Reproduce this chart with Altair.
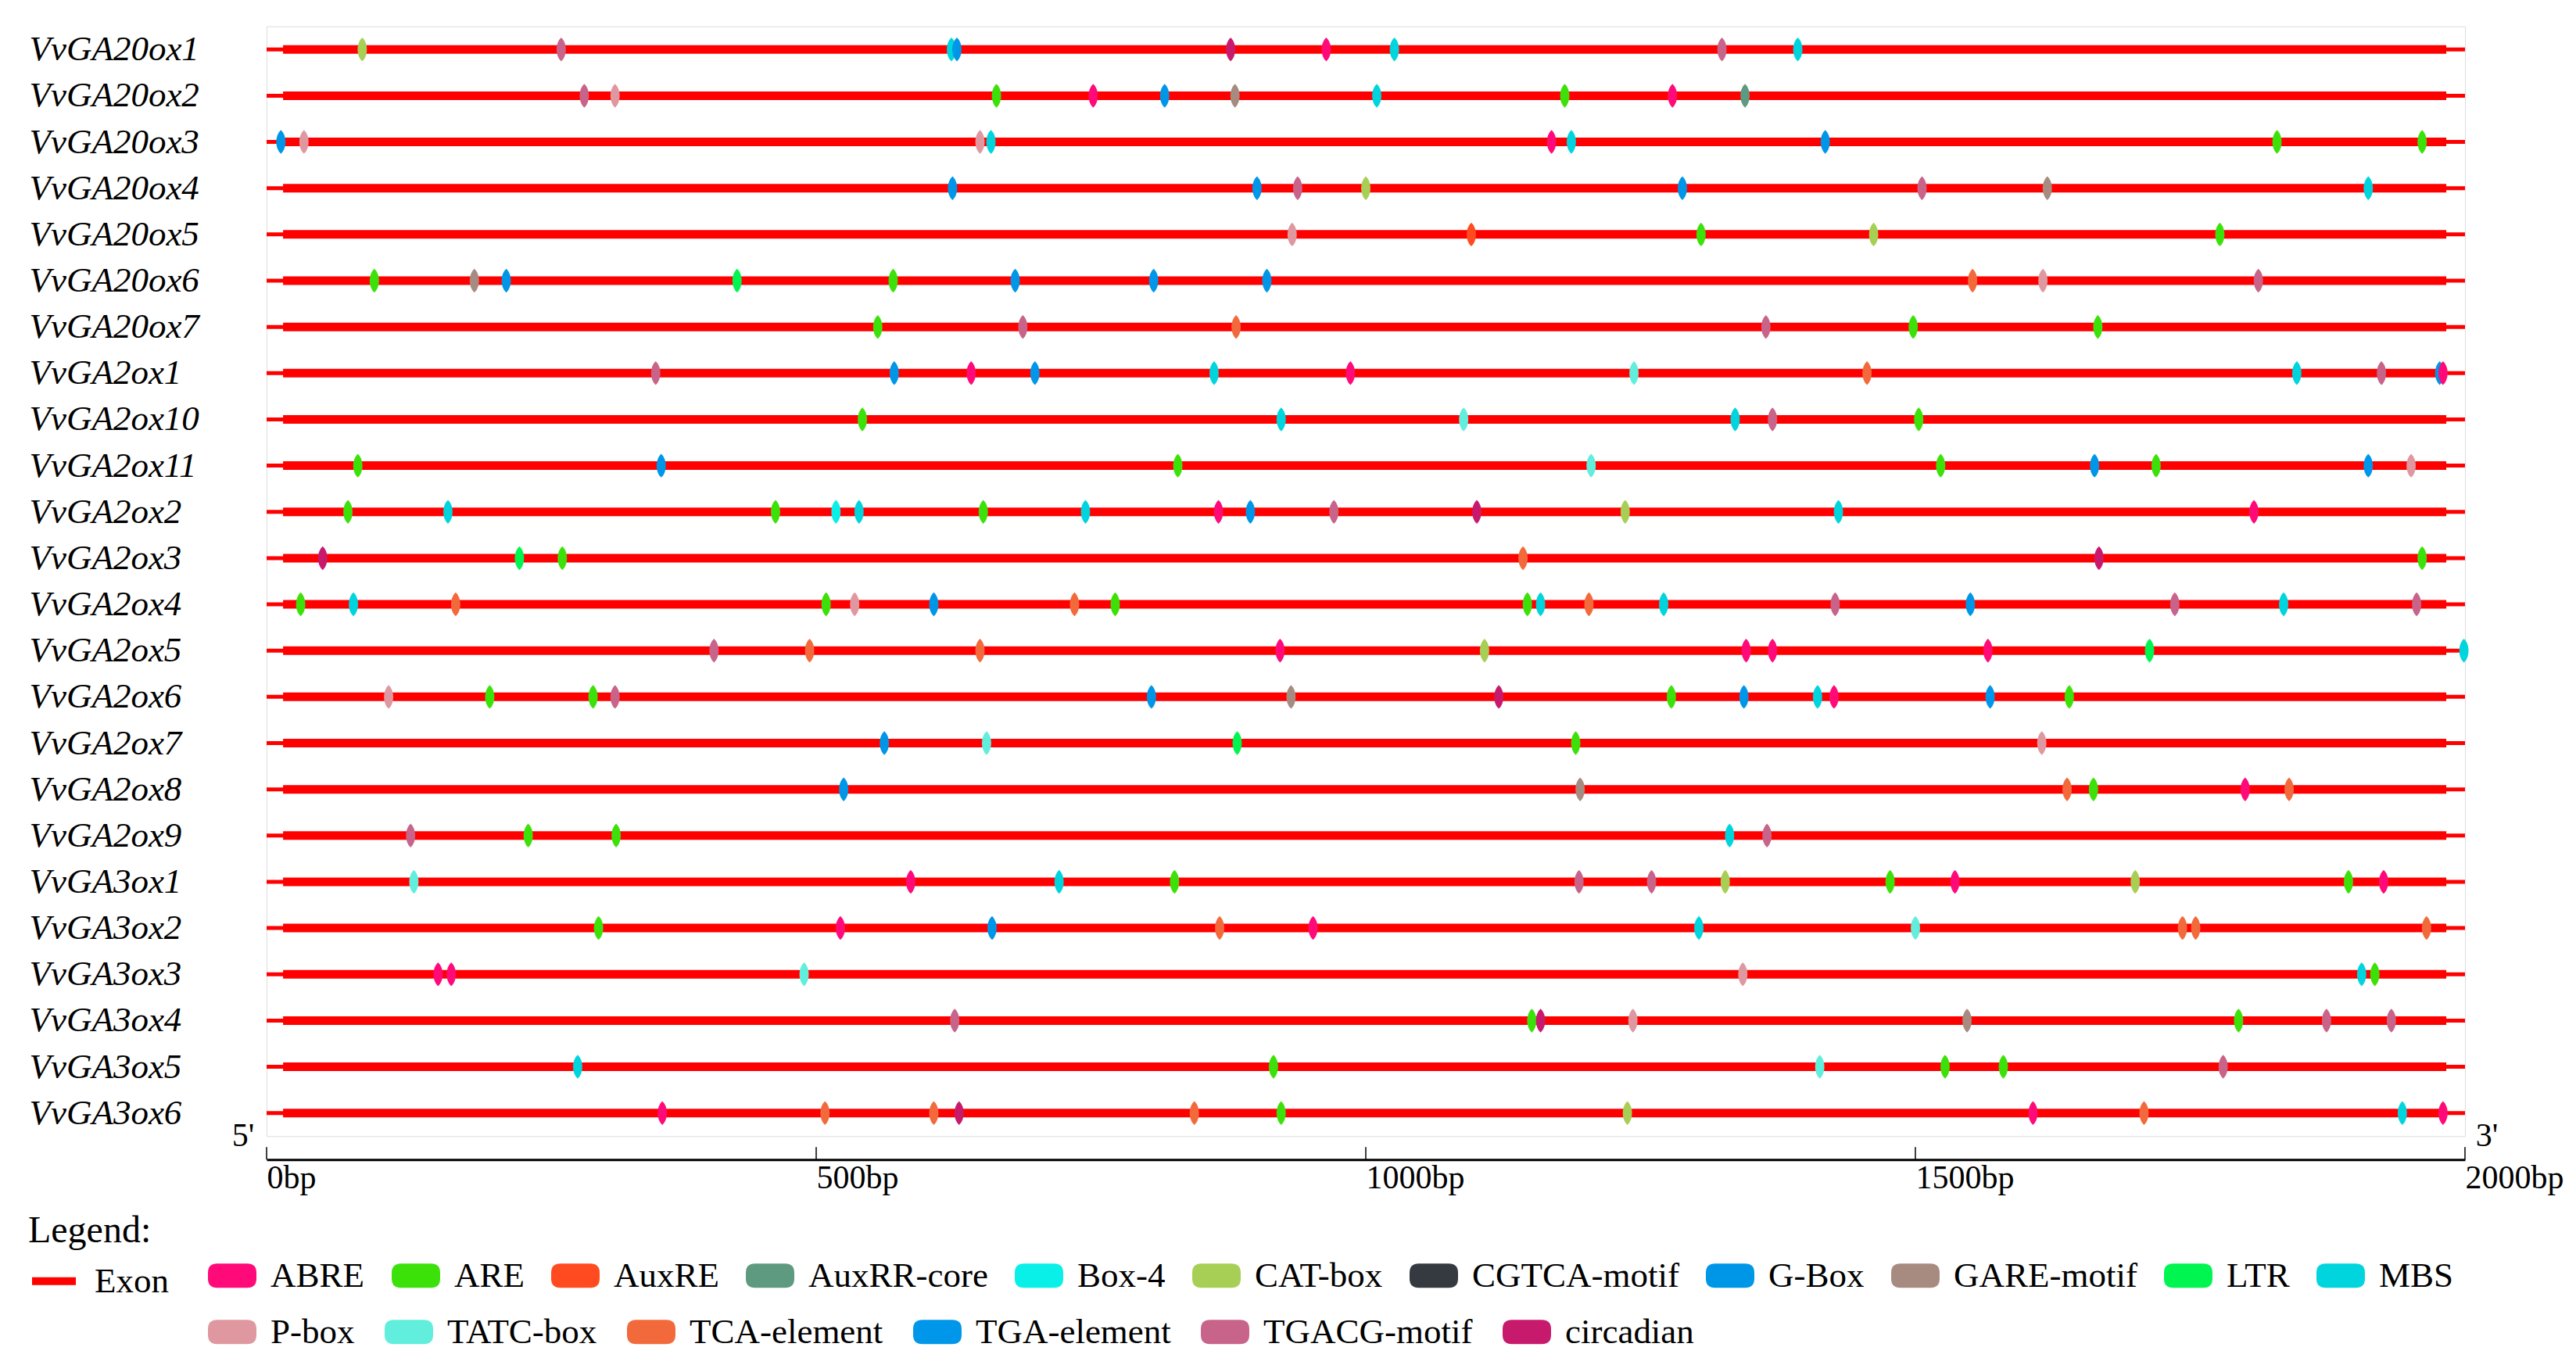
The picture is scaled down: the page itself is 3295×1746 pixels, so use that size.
import altair as alt
import pandas as pd

FONT = "Liberation Serif"

genes = ["VvGA20ox1", "VvGA20ox2", "VvGA20ox3", "VvGA20ox4", "VvGA20ox5", "VvGA20ox6",
         "VvGA20ox7", "VvGA2ox1", "VvGA2ox10", "VvGA2ox11", "VvGA2ox2", "VvGA2ox3",
         "VvGA2ox4", "VvGA2ox5", "VvGA2ox6", "VvGA2ox7", "VvGA2ox8", "VvGA2ox9",
         "VvGA3ox1", "VvGA3ox2", "VvGA3ox3", "VvGA3ox4", "VvGA3ox5", "VvGA3ox6"]

# promoter span (bp) and exon body drawn on each row
gene_start = [0] * 24
gene_end = [2000] * 24
exon_start = [15] * 24
exon_end = [1983] * 24

# legend row 1 and legend row 2 element types, with colours
motif_types_1 = ["ABRE", "ARE", "AuxRE", "AuxRR-core", "Box-4", "CAT-box", "CGTCA-motif",
                 "G-Box", "GARE-motif", "LTR", "MBS"]
motif_colors_1 = ["#FF0A78", "#3DE10A", "#FF4B1F", "#5E9A80", "#08F0E8", "#A8CF55", "#343A40",
                  "#0096E8", "#A88B80", "#00F550", "#00D5DD"]
motif_types_2 = ["P-box", "TATC-box", "TCA-element", "TGA-element", "TGACG-motif", "circadian"]
motif_colors_2 = ["#DF97A0", "#62EEDC", "#F26A3B", "#0097EA", "#C8638A", "#C81A6C"]

ticks = [0, 500, 1000, 1500, 2000]

GA20ox1 = [("CAT-box", 87), ("TGACG-motif", 268), ("MBS", 623), ("G-Box", 628), ("circadian", 877),
           ("ABRE", 964), ("MBS", 1026), ("TGACG-motif", 1324), ("MBS", 1393)]
GA20ox2 = [("TGACG-motif", 289), ("P-box", 317), ("ARE", 664), ("ABRE", 752), ("G-Box", 817),
           ("GARE-motif", 881), ("MBS", 1010), ("ARE", 1181), ("ABRE", 1279), ("AuxRR-core", 1345)]
GA20ox3 = [("G-Box", 13), ("P-box", 34), ("P-box", 649), ("MBS", 659), ("ABRE", 1169), ("MBS", 1187),
           ("G-Box", 1418), ("ARE", 1829), ("ARE", 1961)]
GA20ox4 = [("G-Box", 624), ("TGA-element", 901), ("TGACG-motif", 938), ("CAT-box", 1000), ("G-Box", 1288),
           ("TGACG-motif", 1506), ("GARE-motif", 1620), ("MBS", 1912)]
GA20ox5 = [("P-box", 933), ("AuxRE", 1096), ("ARE", 1305), ("CAT-box", 1462), ("ARE", 1777)]
GA20ox6 = [("ARE", 98), ("GARE-motif", 189), ("G-Box", 218), ("LTR", 428), ("ARE", 570), ("G-Box", 681),
           ("TGA-element", 807), ("G-Box", 910), ("TCA-element", 1552), ("P-box", 1616), ("TGACG-motif", 1812)]
GA20ox7 = [("ARE", 556), ("TGACG-motif", 688), ("TCA-element", 882), ("TGACG-motif", 1364), ("ARE", 1498),
           ("ARE", 1666)]
GA2ox1 = [("TGACG-motif", 354), ("G-Box", 571), ("ABRE", 641), ("TGA-element", 699), ("MBS", 862),
          ("ABRE", 986), ("TATC-box", 1244), ("TCA-element", 1456), ("MBS", 1847), ("TGACG-motif", 1924),
          ("G-Box", 1977), ("ABRE", 1980)]
GA2ox10 = [("ARE", 542), ("MBS", 923), ("TATC-box", 1089), ("MBS", 1336), ("TGACG-motif", 1370), ("ARE", 1503)]
GA2ox11 = [("ARE", 83), ("G-Box", 359), ("ARE", 829), ("TATC-box", 1205), ("ARE", 1523), ("G-Box", 1663),
           ("ARE", 1719), ("TGA-element", 1912), ("P-box", 1951)]
GA2ox2 = [("ARE", 74), ("MBS", 165), ("ARE", 463), ("Box-4", 518), ("MBS", 539), ("ARE", 652), ("MBS", 745),
          ("ABRE", 866), ("G-Box", 895), ("TGACG-motif", 971), ("circadian", 1101), ("CAT-box", 1236),
          ("MBS", 1430), ("ABRE", 1808)]
GA2ox3 = [("circadian", 51), ("LTR", 230), ("ARE", 269), ("TCA-element", 1143), ("circadian", 1667), ("ARE", 1961)]
GA2ox4 = [("ARE", 31), ("MBS", 79), ("TCA-element", 172), ("ARE", 509), ("P-box", 535), ("G-Box", 607),
          ("TCA-element", 735), ("ARE", 772), ("ARE", 1147), ("MBS", 1159), ("TCA-element", 1203), ("MBS", 1271),
          ("TGACG-motif", 1427), ("G-Box", 1550), ("TGACG-motif", 1736), ("MBS", 1835), ("TGACG-motif", 1956)]
GA2ox5 = [("TGACG-motif", 407), ("TCA-element", 494), ("TCA-element", 649), ("ABRE", 922), ("CAT-box", 1108),
          ("ABRE", 1346), ("ABRE", 1370), ("ABRE", 1566), ("LTR", 1713), ("MBS", 1999)]
GA2ox6 = [("P-box", 111), ("ARE", 203), ("ARE", 297), ("TGACG-motif", 317), ("G-Box", 805), ("GARE-motif", 932),
          ("circadian", 1121), ("ARE", 1278), ("G-Box", 1344), ("MBS", 1411), ("ABRE", 1426),
          ("TGA-element", 1568), ("ARE", 1640)]
GA2ox7 = [("G-Box", 562), ("TATC-box", 655), ("LTR", 883), ("ARE", 1191), ("P-box", 1615)]
GA2ox8 = [("G-Box", 525), ("GARE-motif", 1195), ("TCA-element", 1638), ("ARE", 1662), ("ABRE", 1800),
          ("TCA-element", 1840)]
GA2ox9 = [("TGACG-motif", 131), ("ARE", 238), ("ARE", 318), ("MBS", 1331), ("TGACG-motif", 1365)]
GA3ox1 = [("TATC-box", 134), ("ABRE", 586), ("MBS", 721), ("ARE", 826), ("TGACG-motif", 1194),
          ("TGACG-motif", 1260), ("CAT-box", 1327), ("ARE", 1477), ("ABRE", 1536), ("CAT-box", 1700),
          ("ARE", 1894), ("ABRE", 1926)]
GA3ox2 = [("ARE", 302), ("ABRE", 522), ("G-Box", 660), ("TCA-element", 867), ("ABRE", 952), ("MBS", 1303),
          ("TATC-box", 1500), ("TCA-element", 1743), ("TCA-element", 1755), ("TCA-element", 1965)]
GA3ox3 = [("ABRE", 156), ("ABRE", 168), ("TATC-box", 489), ("P-box", 1343), ("MBS", 1906), ("ARE", 1918)]
GA3ox4 = [("TGACG-motif", 626), ("ARE", 1151), ("circadian", 1159), ("P-box", 1243), ("GARE-motif", 1547),
          ("ARE", 1794), ("TGACG-motif", 1874), ("TGACG-motif", 1933)]
GA3ox5 = [("MBS", 283), ("ARE", 916), ("TATC-box", 1413), ("ARE", 1527), ("ARE", 1580), ("TGACG-motif", 1780)]
GA3ox6 = [("ABRE", 360), ("TCA-element", 508), ("TCA-element", 607), ("circadian", 630), ("TCA-element", 844),
          ("ARE", 923), ("CAT-box", 1238), ("ABRE", 1607), ("TCA-element", 1708), ("MBS", 1943), ("ABRE", 1980)]

sites = [GA20ox1, GA20ox2, GA20ox3, GA20ox4, GA20ox5, GA20ox6, GA20ox7, GA2ox1, GA2ox10, GA2ox11,
         GA2ox2, GA2ox3, GA2ox4, GA2ox5, GA2ox6, GA2ox7, GA2ox8, GA2ox9, GA3ox1, GA3ox2, GA3ox3,
         GA3ox4, GA3ox5, GA3ox6]

rows = []
for g, lst in zip(genes, sites):
    for name, pos in lst:
        rows.append({"gene": g, "motif": name, "pos": pos})
motif_df = pd.DataFrame(rows)
motif_df_1 = motif_df[motif_df["motif"].isin(motif_types_1)]
motif_df_2 = motif_df[motif_df["motif"].isin(motif_types_2)]

gene_df = pd.DataFrame({"gene": genes, "start": gene_start, "end": gene_end,
                        "estart": exon_start, "eend": exon_end, "part": ["Exon"] * 24})
tick_df = pd.DataFrame({"tick": ticks})
end_df = pd.DataFrame({"label": ["5'", "3'"], "pos": [0, 2000]})

W = 2812
H = 1419.6
AXIS_OFF = 30
LEG_FS = 45

x_scale = alt.Scale(domain=[0, 2000], nice=False, zero=False)
x_axis = alt.Axis(values=ticks, labelExpr="datum.value + 'bp'", title=None, offset=AXIS_OFF,
                  domainWidth=3, domainColor="black", ticks=False, tickSize=0, labelAlign="left",
                  labelBaseline="top", labelPadding=3, labelFont=FONT, labelFontSize=42,
                  labelColor="black", grid=False, labelFlush=False, labelOverlap=False)
y_axis = alt.Axis(title=None, labelAlign="left", labelPadding=304, labelFont=FONT, labelFontSize=45,
                  labelFontStyle="italic", labelColor="black", ticks=False, tickSize=0, domain=False,
                  grid=False, labelBaseline="middle", labelLimit=0)
y_enc = alt.Y("gene:N", sort=genes, scale=alt.Scale(domain=genes), axis=y_axis)

lens = "M0,-1C0.52,-0.55 0.52,0.55 0,1C-0.52,0.55 -0.52,-0.55 0,-1Z"
rrect = ("M-0.62,-0.5L0.62,-0.5Q1,-0.5 1,-0.12L1,0.12Q1,0.5 0.62,0.5L-0.62,0.5"
         "Q-1,0.5 -1,0.12L-1,-0.12Q-1,-0.5 -0.62,-0.5Z")


def motif_legend(legend_y, col_pad):
    return alt.Legend(title=None, orient="none", legendX=-75, legendY=legend_y,
                      direction="horizontal", symbolType=rrect, symbolSize=3844,
                      symbolStrokeWidth=0, symbolOpacity=1, labelFont=FONT, labelFontSize=LEG_FS,
                      labelColor="black", labelOffset=18, columnPadding=col_pad,
                      labelLimit=0, padding=0)


thin = alt.Chart(gene_df).mark_rule(color="#FF0000", strokeWidth=5).encode(
    x=alt.X("start:Q", scale=x_scale, axis=x_axis), x2="end:Q", y=y_enc)

thick = alt.Chart(gene_df).mark_rule(strokeWidth=11, strokeCap="butt").encode(
    x=alt.X("estart:Q", scale=x_scale, axis=x_axis), x2="eend:Q", y=y_enc,
    stroke=alt.Stroke("part:N", scale=alt.Scale(domain=["Exon"], range=["#FF0000"]),
                      legend=alt.Legend(title="Legend:", orient="none", legendX=-305, legendY=1517,
                                        titleFont=FONT, titleFontSize=48, titleFontWeight="normal",
                                        titleColor="black", titlePadding=7, titleAnchor="start",
                                        symbolType="stroke", symbolStrokeWidth=10, symbolSize=3136,
                                        labelFont=FONT, labelFontSize=LEG_FS, labelOffset=19,
                                        labelColor="black", padding=0)))

points1 = alt.Chart(motif_df_1).mark_point(shape=lens, size=930, filled=True, opacity=1, strokeWidth=0).encode(
    x=alt.X("pos:Q", scale=x_scale, axis=x_axis), y=y_enc,
    fill=alt.Fill("motif:N", scale=alt.Scale(domain=motif_types_1, range=motif_colors_1),
                  legend=motif_legend(1567, 34)))

points2 = alt.Chart(motif_df_2).mark_point(shape=lens, size=930, filled=True, opacity=1, strokeWidth=0).encode(
    x=alt.X("pos:Q", scale=x_scale, axis=x_axis), y=y_enc,
    color=alt.Color("motif:N", scale=alt.Scale(domain=motif_types_2, range=motif_colors_2),
                    legend=motif_legend(1639, 38)))

tick_marks = alt.Chart(tick_df).mark_rule(color="black", strokeWidth=1.5).encode(
    x=alt.X("tick:Q", scale=x_scale, axis=x_axis),
    y=alt.value(H + AXIS_OFF - 16), y2=alt.value(H + AXIS_OFF))

five = alt.Chart(end_df).transform_filter(alt.datum.pos == 0).mark_text(
    font=FONT, fontSize=42, color="black", dx=-30, baseline="middle", align="center").encode(
    x=alt.X("pos:Q", scale=x_scale, axis=x_axis), y=alt.value(H), text="label:N")
three = alt.Chart(end_df).transform_filter(alt.datum.pos == 2000).mark_text(
    font=FONT, fontSize=42, color="black", dx=28, baseline="middle", align="center").encode(
    x=alt.X("pos:Q", scale=x_scale, axis=x_axis), y=alt.value(H), text="label:N")

chart = alt.layer(thin, thick, points1, points2, tick_marks, five, three).properties(
    width=W, height=H,
    padding={"left": 333, "top": 25.7, "right": 128, "bottom": 280},
    autosize=alt.AutoSizeParams(type="none"),
).configure_view(stroke=None).configure(background="white")

chart.save("out.html", embed_options={"renderer": "svg", "actions": False})
